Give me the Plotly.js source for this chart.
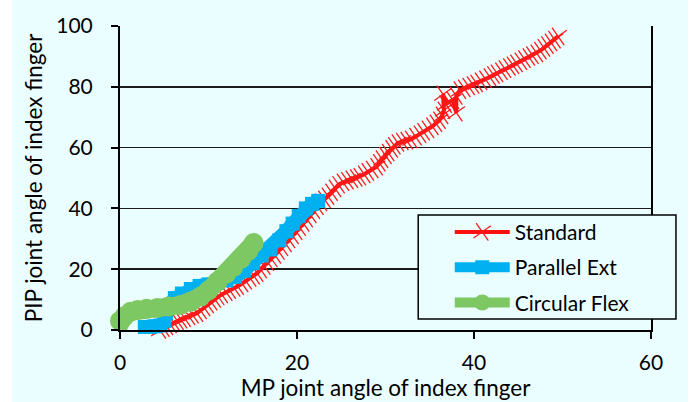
<!DOCTYPE html>
<html>
<head>
<meta charset="utf-8">
<script src="https://cdn.plot.ly/plotly-3.0.1.min.js"></script>
<style>
  html, body { margin: 0; padding: 0; }
  body { width: 693px; height: 402px; overflow: hidden;
    background: linear-gradient(to right, #ffffff 0px, #ffffff 12px, #ebfeff 12px, #ebfeff 688px, #ffffff 688px); }
  #chart { width: 693px; height: 402px; }
</style>
</head>
<body>
<div id="chart"></div>
<script>
// ---- data ----
const seriesNames = ["Standard", "Parallel Ext", "Circular Flex"];

const standardX = [4.5, 4.9, 5.3, 5.7, 6.1, 6.5, 6.9, 7.3, 7.8, 8.2, 8.7, 9.1, 9.5, 9.9, 10.3, 10.7, 11.1, 11.5, 12.0, 12.4,
  12.9, 13.3, 13.8, 14.2, 14.7, 15.1, 15.5, 15.9, 16.3, 16.7, 17.1, 17.5, 17.9, 18.3, 18.7, 19.1, 19.5, 19.9, 20.3, 20.7,
  21.1, 21.5, 21.9, 22.3, 22.7, 23.1, 23.5, 23.9, 24.3, 24.7, 25.2, 25.7, 26.2, 26.7, 27.1, 27.6, 28.0, 28.5, 29.0, 29.3,
  29.6, 30.0, 30.3, 30.7, 31.0, 31.4, 31.9, 32.4, 32.9, 33.4, 33.9, 34.3, 34.8, 35.3, 35.7, 36.1, 36.4, 36.6, 36.5, 36.8,
  37.2, 37.6, 38.0, 38.0, 38.4, 38.9, 39.4, 39.9, 40.3, 40.8, 41.3, 41.8, 42.2, 42.6, 43.1, 43.5, 44.0, 44.4, 44.8, 45.3,
  45.7, 46.2, 46.6, 47.1, 47.5, 47.9, 48.3, 48.7, 49.1, 49.5];
const standardY = [0.0, 0.6, 1.2, 1.8, 2.4, 2.9, 3.4, 3.9, 4.5, 5.0, 5.5, 6.4, 7.4, 8.4, 9.3, 10.2, 11.0, 11.7, 12.4, 13.1,
  13.8, 14.4, 15.3, 16.2, 17.1, 17.9, 18.7, 19.9, 21.1, 22.3, 23.5, 24.7, 26.0, 27.2, 28.5, 29.8, 31.1, 32.5, 33.8, 35.2,
  36.6, 38.0, 39.4, 40.7, 42.0, 43.0, 44.0, 45.3, 46.6, 47.8, 48.6, 49.1, 49.6, 50.0, 50.4, 51.2, 52.0, 52.8, 53.7, 55.0,
  56.2, 57.4, 58.4, 59.6, 60.6, 61.5, 62.0, 62.3, 62.7, 63.6, 64.4, 65.2, 66.0, 67.0, 68.0, 69.0, 70.6, 72.3, 77.5, 74.3,
  75.0, 75.6, 71.5, 77.0, 78.9, 79.5, 80.1, 80.6, 81.1, 81.8, 82.5, 83.2, 83.9, 84.4, 85.1, 85.8, 86.5, 87.1, 87.7, 88.4,
  89.1, 89.8, 90.4, 91.0, 91.9, 92.8, 93.7, 94.6, 95.5, 96.6];

const parallelX = [2.8, 3.4, 4.0, 4.6, 5.0, 5.2, 5.5, 6.2, 7.0, 8.0, 9.0, 10.0, 11.0, 12.0, 13.0, 14.0, 15.0, 16.0, 17.0,
  18.0, 18.8, 19.5, 20.2, 21.0, 21.7, 22.4];
const parallelY = [1.0, 1.0, 1.2, 1.5, 3.0, 5.5, 8.0, 10.5, 12.0, 13.5, 14.5, 15.0, 15.5, 16.3, 17.5, 19.5, 22.0, 24.5, 26.5,
  29.5, 32.5, 35.0, 37.5, 40.0, 41.5, 42.5];

const circularX = [-0.2, 0.0, 0.5, 1.2, 2.0, 3.0, 4.2, 5.5, 6.8, 8.0, 9.1, 10.0, 11.0, 12.0, 12.8, 13.7, 14.5, 15.1];
const circularY = [1.0, 3.0, 4.5, 6.0, 6.6, 7.0, 7.2, 7.7, 8.2, 9.3, 11.0, 13.0, 15.9, 18.5, 20.7, 23.5, 26.0, 28.6];

const xTicks = [0, 20, 40, 60];
const yTicks = [0, 20, 40, 60, 80, 100];
const xTitle = "MP joint angle of index finger";
const yTitle = "PIP joint angle of index finger";

// ---- styling ----
const FONT = "Lato, 'Open Sans', sans-serif";
const traces = [
  {
    x: standardX, y: standardY, name: seriesNames[0], legendgroup: "a",
    mode: "lines+markers", cliponaxis: false,
    line: { color: "#ff1010", width: 4 },
    marker: { symbol: "x-thin", size: 15, angle: 10, color: "#ff1010", line: { color: "#ff1a1a", width: 1.3 } }
  },
  {
    x: parallelX, y: parallelY, name: seriesNames[1], legendgroup: "b",
    mode: "lines+markers", cliponaxis: false,
    line: { color: "#00b0f0", width: 14 },
    marker: { symbol: "square", size: 14, color: "#00b0f0" }
  },
  {
    x: circularX, y: circularY, name: seriesNames[2], legendgroup: "c",
    mode: "lines+markers", cliponaxis: false,
    line: { color: "#7dc863", width: 18 },
    marker: { symbol: "circle", size: 20, color: "#7dc863" }
  }
];

const layout = {
  width: 693, height: 402,
  margin: { l: 120, r: 42, t: 26, b: 72 },
  paper_bgcolor: "rgba(0,0,0,0)",
  plot_bgcolor: "rgba(0,0,0,0)",
  font: { family: FONT, size: 21, color: "#000" },
  showlegend: true,
  legend: {
    x: 0.621, y: 0.389, xanchor: "left", yanchor: "top",
    bgcolor: "rgba(0,0,0,0)", borderwidth: 0,
    font: { family: FONT, size: 21, color: "#000" },
    traceorder: "grouped", tracegroupgap: 5, itemwidth: 55
  },
  xaxis: {
    range: [0, 60], tickvals: xTicks, ticktext: xTicks.map(String),
    showgrid: false, zeroline: false,
    showline: true, linecolor: "#000", linewidth: 2,
    ticks: "outside", ticklen: 7, tickwidth: 2, tickcolor: "#000",
    ticklabelstandoff: 6,
    tickfont: { family: FONT, size: 21, color: "#000" },
    title: { text: xTitle, font: { family: FONT, size: 22.5, color: "#000" }, standoff: 0 }
  },
  yaxis: {
    range: [0, 100], tickvals: yTicks, ticktext: yTicks.map(String),
    showgrid: true, gridcolor: "#1b1b1b", gridwidth: 1.6,
    zeroline: false,
    showline: true, linecolor: "#000", linewidth: 2, mirror: true,
    ticks: "outside", ticklen: 7, tickwidth: 2, tickcolor: "#000",
    ticklabelstandoff: 14,
    tickfont: { family: FONT, size: 21, color: "#000" },
    title: { text: yTitle, font: { family: FONT, size: 22.5, color: "#000" }, standoff: 7 }
  },
  shapes: [
    {
      type: "rect", xref: "paper", yref: "paper", layer: "above",
      x0: 0.5616, x1: 1.047, y0: 0.036, y1: 0.378,
      fillcolor: "#ebfeff", line: { color: "#000", width: 1.5 }
    }
  ]
};

Plotly.newPlot("chart", traces, layout, { staticPlot: true, displayModeBar: false });
</script>
</body>
</html>
